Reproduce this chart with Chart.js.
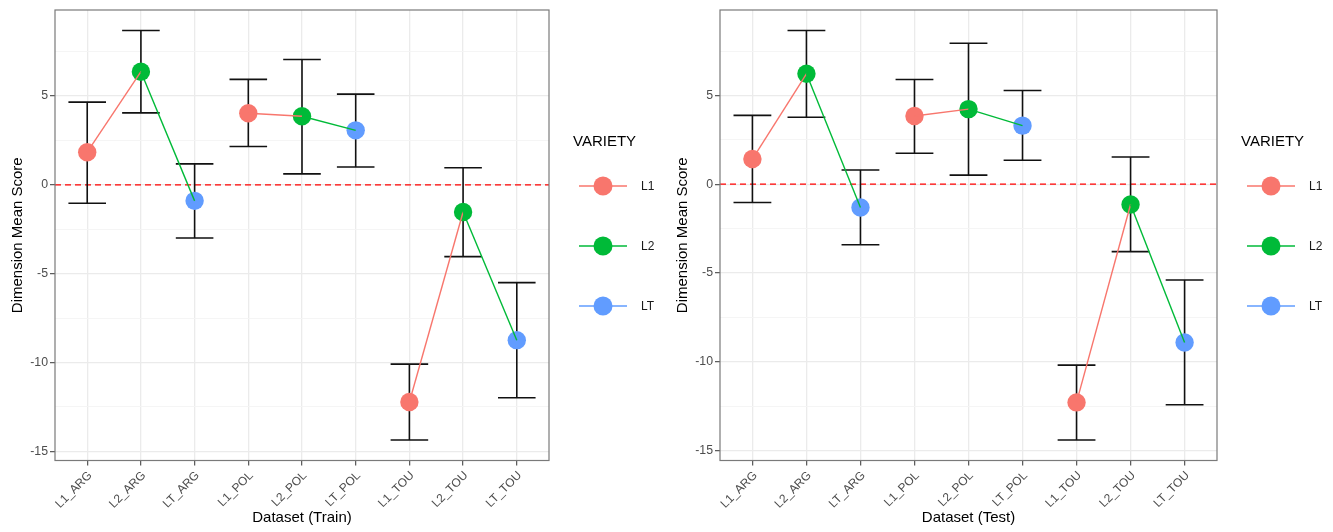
<!DOCTYPE html>
<html>
<head>
<meta charset="utf-8">
<script src="https://cdn.jsdelivr.net/npm/chart.js@4.4.1/dist/chart.umd.min.js"></script>
<style>
  html, body { margin: 0; padding: 0; background: #ffffff; }
  #wrap { position: relative; width: 1333px; height: 532px; overflow: hidden; }
  canvas { position: absolute; top: 0; }
  #trainChart { left: 0; }
  #testChart { left: 665px; }
</style>
</head>
<body>
<div id="wrap">
  <canvas id="trainChart" width="665" height="532"></canvas>
  <canvas id="testChart" width="668" height="532"></canvas>
</div>
<script>
// Datasets on the x axis, in display order
const categories = ['L1_ARG', 'L2_ARG', 'LT_ARG', 'L1_POL', 'L2_POL', 'LT_POL', 'L1_TOU', 'L2_TOU', 'LT_TOU'];
const varieties = ['L1', 'L2', 'LT'];
const sites = ['ARG', 'POL', 'TOU'];

// Train: mean score with lower / upper error-bar limits
const trainMean  = [1.84, 6.37, -0.90, 4.03, 3.86, 3.07, -12.22, -1.53, -8.74];
const trainLower = [-1.03, 4.05, -2.99, 2.16, 0.62, 1.01, -14.36, -4.04, -11.98];
const trainUpper = [4.66, 8.69, 1.18, 5.94, 7.06, 5.11, -10.09, 0.96, -5.50];

// Test: mean score with lower / upper error-bar limits
const testMean  = [1.42, 6.22, -1.31, 3.84, 4.23, 3.30, -12.29, -1.14, -8.92];
const testLower = [-1.03, 3.77, -3.41, 1.74, 0.51, 1.35, -14.41, -3.80, -12.42];
const testUpper = [3.88, 8.66, 0.80, 5.90, 7.94, 5.28, -10.19, 1.53, -5.40];

// Labelled y ticks (minor grid lines fall half-way between)
const yTickLabels = [-15, -10, -5, 0, 5];

const COLORS = { L1: '#F8766D', L2: '#00BA38', LT: '#619CFF' };
const FONT = "'Liberation Sans', Arial, Helvetica, sans-serif";
Chart.defaults.font.family = FONT;

const varietyOf = (cat) => cat.split('_')[0];
const siteOf = (cat) => cat.split('_')[1];

function buildChart(canvasId, xTitle, mean, lower, upper) {
  // ggplot-style 5% expansion of the data range
  const lo = Math.min(...lower, ...mean);
  const hi = Math.max(...upper, ...mean);
  const pad = (hi - lo) * 0.05;
  const yMin = lo - pad, yMax = hi + pad;
  const step = (yTickLabels[1] - yTickLabels[0]) / 2;
  const allTicks = [];
  for (let v = yTickLabels[0] - step; v <= yMax; v += step) if (v >= yMin) allTicks.push(v);
  const isMajor = (v) => yTickLabels.some(t => Math.abs(t - v) < 1e-9);

  // points, one dataset per variety
  const pointSets = varieties.map(vr => ({
    label: vr,
    data: categories.map((c, i) => ({ x: i, y: mean[i] })).filter(p => varietyOf(categories[p.x]) === vr),
    showLine: false,
    pointRadius: 9.2,
    pointHoverRadius: 9.2,
    pointBackgroundColor: COLORS[vr],
    pointBorderWidth: 0,
    order: 2
  }));

  // connecting lines inside each site, coloured by the starting variety
  const lineSets = sites.map(s => ({
    label: s,
    data: categories.map((c, i) => ({ x: i, y: mean[i] })).filter(p => siteOf(categories[p.x]) === s),
    showLine: true,
    pointRadius: 0,
    borderWidth: 1.4,
    borderColor: '#000',
    segment: {
      borderColor: ctx => COLORS[varietyOf(categories[ctx.p0.parsed.x])]
    },
    order: 0
  }));

  const decorPlugin = {
    id: 'decor',
    beforeDatasetsDraw(chart) {
      const { ctx, chartArea: a, scales: { x, y } } = chart;
      ctx.save();
      ctx.beginPath();
      ctx.rect(a.left, a.top, a.right - a.left, a.bottom - a.top);
      ctx.clip();
      // dashed reference line at zero
      const y0 = y.getPixelForValue(0);
      ctx.strokeStyle = '#FF0000';
      ctx.lineWidth = 1.3;
      ctx.setLineDash([6, 4]);
      ctx.beginPath();
      ctx.moveTo(a.left, y0);
      ctx.lineTo(a.right, y0);
      ctx.stroke();
      ctx.setLineDash([]);
      // error bars
      ctx.strokeStyle = '#111111';
      ctx.lineWidth = 1.6;
      categories.forEach((c, i) => {
        const cx = x.getPixelForValue(i);
        const half = x.getPixelForValue(0.35) - x.getPixelForValue(0);
        const yt = y.getPixelForValue(upper[i]);
        const yb = y.getPixelForValue(lower[i]);
        ctx.beginPath();
        ctx.moveTo(cx - half, yt); ctx.lineTo(cx + half, yt);
        ctx.moveTo(cx, yt); ctx.lineTo(cx, yb);
        ctx.moveTo(cx - half, yb); ctx.lineTo(cx + half, yb);
        ctx.stroke();
      });
      ctx.restore();
    },
    afterDraw(chart) {
      const { ctx, chartArea: a } = chart;
      ctx.save();
      // panel border
      ctx.strokeStyle = '#7a7a7a';
      ctx.lineWidth = 1.2;
      ctx.strokeRect(a.left, a.top, a.right - a.left, a.bottom - a.top);
      // legend
      const lx = a.right + 24;
      ctx.fillStyle = '#000';
      ctx.font = '15px ' + FONT;
      ctx.textBaseline = 'middle';
      ctx.textAlign = 'left';
      ctx.fillText('VARIETY', lx, 142);
      varieties.forEach((vr, k) => {
        const ky = 186 + k * 60;
        ctx.strokeStyle = COLORS[vr];
        ctx.lineWidth = 1.4;
        ctx.beginPath();
        ctx.moveTo(lx + 6, ky); ctx.lineTo(lx + 54, ky);
        ctx.stroke();
        ctx.fillStyle = COLORS[vr];
        ctx.beginPath();
        ctx.arc(lx + 30, ky, 9.5, 0, Math.PI * 2);
        ctx.fill();
        ctx.fillStyle = '#1a1a1a';
        ctx.font = '12px ' + FONT;
        ctx.fillText(vr, lx + 68, ky + 1);
      });
      ctx.restore();
    }
  };

  return new Chart(document.getElementById(canvasId), {
    type: 'scatter',
    data: { datasets: [...lineSets, ...pointSets] },
    options: {
      responsive: false,
      animation: false,
      devicePixelRatio: 1,
      layout: { padding: { top: 10, right: 116, bottom: 0, left: 0 } },
      plugins: { legend: { display: false }, tooltip: { enabled: false } },
      scales: {
        x: {
          type: 'linear',
          min: -0.6,
          max: categories.length - 1 + 0.6,
          afterBuildTicks: (s) => { s.ticks = categories.map((c, i) => ({ value: i })); },
          afterFit: (s) => { s.height = 71.5; },
          border: { display: false },
          grid: { color: '#ebebeb', lineWidth: 1.3, tickLength: 5, tickColor: '#555555', tickWidth: 1.2 },
          ticks: {
            autoSkip: false,
            minRotation: 45,
            maxRotation: 45,
            padding: 3,
            labelOffset: 3,
            color: '#4d4d4d',
            font: { size: 12 },
            callback: (v) => categories[v] ?? ''
          },
          title: {
            display: true,
            text: xTitle,
            color: '#000',
            font: { size: 15 },
            padding: { top: 0, bottom: 5 }
          }
        },
        y: {
          type: 'linear',
          min: yMin,
          max: yMax,
          afterBuildTicks: (s) => { s.ticks = allTicks.map(v => ({ value: v })); },
          afterFit: (s) => { s.width = 55; },
          border: { display: false },
          grid: {
            color: (c) => isMajor(c.tick.value) ? '#ebebeb' : '#f4f4f4',
            lineWidth: (c) => isMajor(c.tick.value) ? 1.3 : 0.9,
            tickLength: 5,
            tickColor: (c) => isMajor(c.tick.value) ? '#555555' : 'rgba(0,0,0,0)',
            tickWidth: 1.2
          },
          ticks: {
            padding: 2,
            color: '#4d4d4d',
            font: { size: 12.3 },
            callback: (v) => isMajor(v) ? String(Math.round(v)) : ''
          },
          title: {
            display: true,
            text: 'Dimension Mean Score',
            color: '#000',
            font: { size: 15 },
            padding: { top: 9, bottom: 0 }
          }
        }
      }
    },
    plugins: [decorPlugin]
  });
}

buildChart('trainChart', 'Dataset (Train)', trainMean, trainLower, trainUpper);
buildChart('testChart', 'Dataset (Test)', testMean, testLower, testUpper);
</script>
</body>
</html>
